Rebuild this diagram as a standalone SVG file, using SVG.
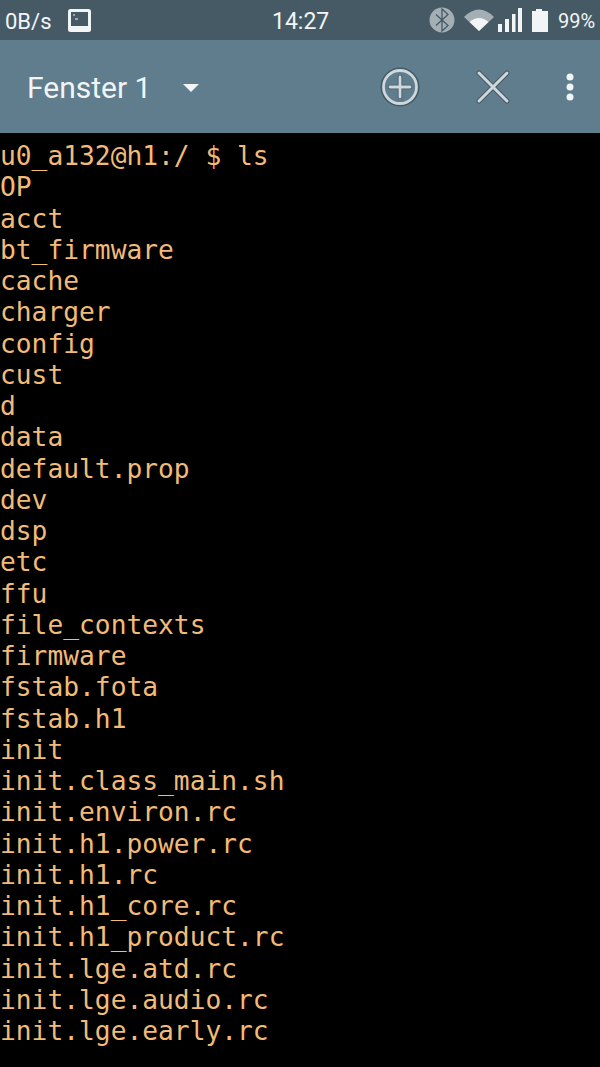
<svg xmlns="http://www.w3.org/2000/svg" width="600" height="1067" viewBox="0 0 600 1067">
<style>
.t{font-family:"DejaVu Sans Mono","Liberation Mono",monospace;font-size:26.25px;fill:#f2bb78}
.s{font-family:Roboto,"Liberation Sans",sans-serif;fill:#f2f5f6}
</style>
<rect width="600" height="1067" fill="#000"/>
<rect width="600" height="40" fill="#465a65"/>
<rect y="40" width="600" height="93" fill="#5f7d8c"/>
<text class="s" x="5" y="28.500" font-size="22">0B/s</text>
<rect x="68" y="9" width="23" height="23" rx="2.500" fill="#f2f5f6"/>
<rect x="71" y="12" width="17" height="14" fill="#465a65"/>
<path d="M73 15h2M75 19h3" stroke="#f2f5f6" stroke-width="1" fill="none"/>
<text class="s" x="272" y="29" font-size="23">14:27</text>
<circle cx="442" cy="20" r="12.500" fill="#a3afb5"/>
<path d="M436 14.500l12 11-6 5.500v-22l6 5.500-12 11" fill="none" stroke="#465a65" stroke-width="1.300"/>
<path d="M464 17q15-15 30 0l-15 14z" fill="#a3afb5"/>
<path d="M469.500 22q9.500-8 19 0l-9.500 9z" fill="#f2f5f6"/>
<path d="M498 24h4v8h-4zM505 19h4v13h-4zM512 14h3.500v18h-3.500zM518 8h4v24h-4z" fill="#f2f5f6"/>
<path d="M532 11h4v-2h6v2h6v21h-16z" fill="#f2f5f6"/>
<text class="s" x="558" y="28" font-size="20">99%</text>
<text class="s" x="27" y="98" font-size="30">Fenster 1</text>
<path d="M183 84h16l-8 8z" fill="#f2f5f6"/>
<g fill="none" stroke-linecap="round">
<circle cx="400" cy="87" r="17.500" stroke="#465a65" stroke-width="4"/>
<circle cx="400" cy="87" r="16.500" stroke="#cfd8dc" stroke-width="2.800"/>
<path d="M390 87h20M400 77v20" stroke="#465a65" stroke-width="4.500"/>
<path d="M390 87h20M400 77v20" stroke="#cfd8dc" stroke-width="2.800"/>
<path d="M479 73l28 28M507 73l-28 28" stroke="#465a65" stroke-width="5"/>
<path d="M479 73l28 28M507 73l-28 28" stroke="#cfd8dc" stroke-width="3"/>
</g>
<g fill="#f2f5f6"><circle cx="570" cy="77" r="3.500"/><circle cx="570" cy="87" r="3.500"/><circle cx="570" cy="97" r="3.500"/></g>
<g class="t">
<text x="0" y="165">u0_a132@h1:/ $ ls</text>
<text x="0" y="196.200">OP</text>
<text x="0" y="227.500">acct</text>
<text x="0" y="258.700">bt_firmware</text>
<text x="0" y="290">cache</text>
<text x="0" y="321.200">charger</text>
<text x="0" y="352.500">config</text>
<text x="0" y="383.700">cust</text>
<text x="0" y="415">d</text>
<text x="0" y="446.200">data</text>
<text x="0" y="477.500">default.prop</text>
<text x="0" y="508.700">dev</text>
<text x="0" y="540">dsp</text>
<text x="0" y="571.200">etc</text>
<text x="0" y="602.500">ffu</text>
<text x="0" y="633.700">file_contexts</text>
<text x="0" y="665">firmware</text>
<text x="0" y="696.200">fstab.fota</text>
<text x="0" y="727.500">fstab.h1</text>
<text x="0" y="758.700">init</text>
<text x="0" y="790">init.class_main.sh</text>
<text x="0" y="821.200">init.environ.rc</text>
<text x="0" y="852.500">init.h1.power.rc</text>
<text x="0" y="883.700">init.h1.rc</text>
<text x="0" y="915">init.h1_core.rc</text>
<text x="0" y="946.200">init.h1_product.rc</text>
<text x="0" y="977.500">init.lge.atd.rc</text>
<text x="0" y="1008.700">init.lge.audio.rc</text>
<text x="0" y="1040">init.lge.early.rc</text>
</g>
</svg>
